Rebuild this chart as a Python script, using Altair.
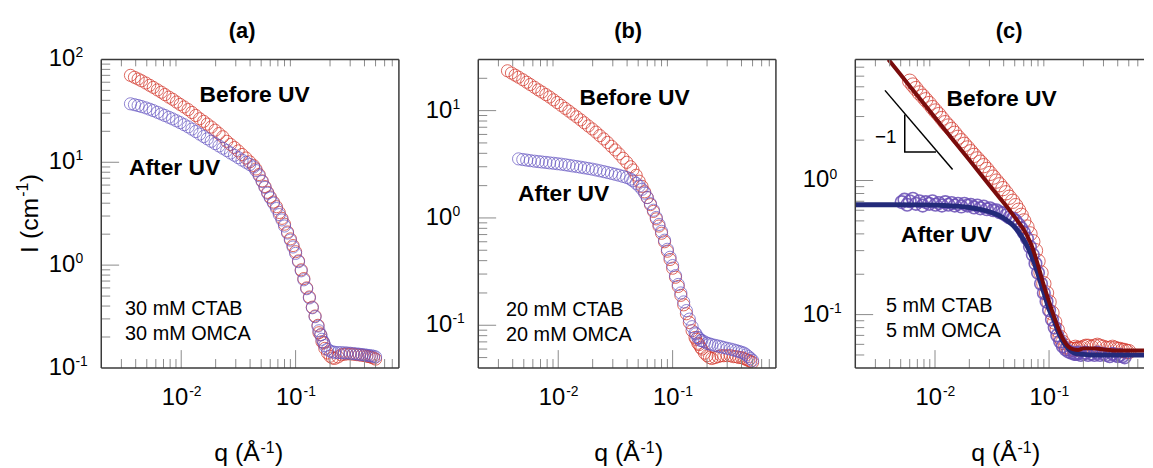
import altair as alt
import pandas as pd

# ---------------- data ----------------
Q_LOW = [0.0036, 0.0039, 0.0042, 0.0045, 0.0049, 0.0053, 0.0057, 0.0062, 0.0067, 0.0072,
         0.0078, 0.0084, 0.0091, 0.0098, 0.0106, 0.0115, 0.0124, 0.0134, 0.0145, 0.0157,
         0.0169, 0.0183, 0.0198, 0.0214, 0.0231, 0.025, 0.027, 0.0292, 0.0315, 0.034,
         0.0368, 0.0397, 0.0429]
Q_MID = [0.045, 0.048, 0.051, 0.054, 0.057, 0.060, 0.064, 0.068, 0.072, 0.076,
         0.080, 0.085, 0.090, 0.095, 0.100, 0.106, 0.112, 0.118, 0.125, 0.132,
         0.140, 0.148, 0.157, 0.166, 0.176]
Q_HIGH = [0.16, 0.17, 0.18, 0.19, 0.20, 0.21, 0.22, 0.235, 0.25, 0.265,
          0.28, 0.30, 0.32, 0.34, 0.36, 0.38, 0.40, 0.42, 0.44, 0.46,
          0.48, 0.50]
Q_AB = Q_LOW + Q_MID + Q_HIGH

I_A_BEFORE = [70, 67, 64.5, 62, 59, 56, 53.5, 50.5, 48, 45.5,
              43, 41, 38.5, 36.5, 34.5, 32.5, 30.5, 28.5, 26.5, 25,
              23.5, 22, 20.5, 19, 17.7, 16.0, 14.9, 13.9, 12.9, 11.9,
              11.0, 10.1, 9.3,
              8.6, 7.6, 6.6, 5.8, 5.1, 4.6, 4.1, 3.7, 3.25, 2.85,
              2.5, 2.1, 1.8, 1.55, 1.35, 1.1, 0.9, 0.74, 0.6, 0.49,
              0.39, 0.32, 0.26, 0.21, 0.175,
              0.22, 0.18, 0.155, 0.14, 0.13, 0.125, 0.124, 0.128, 0.134, 0.136,
              0.137, 0.137, 0.136, 0.135, 0.134, 0.133, 0.132, 0.13, 0.129, 0.127,
              0.125, 0.122]
I_A_AFTER = [37, 36.3, 35.6, 34.8, 33.8, 32.8, 31.8, 30.6, 29.5, 28.5,
             27.4, 26.4, 25.3, 24.3, 23.2, 22.1, 21.0, 19.9, 18.8, 17.8,
             16.9, 16.0, 15.2, 14.4, 13.7, 13.0, 12.3, 11.7, 11.1, 10.5,
             10.0, 9.5, 9.0,
             8.3, 7.4, 6.5, 5.7, 5.0, 4.5, 4.0, 3.55, 3.1, 2.75,
             2.4, 2.05, 1.75, 1.5, 1.3, 1.08, 0.88, 0.72, 0.59, 0.48,
             0.385, 0.315, 0.255, 0.21, 0.178,
             0.23, 0.19, 0.165, 0.152, 0.146, 0.143, 0.142, 0.141, 0.141, 0.14,
             0.14, 0.139, 0.138, 0.137, 0.136, 0.135, 0.134, 0.133, 0.132, 0.131,
             0.13, 0.128]
I_B_BEFORE = [23.5, 22.4, 21.4, 20.5, 19.4, 18.4, 17.5, 16.5, 15.6, 14.9,
              14.1, 13.4, 12.6, 11.9, 11.2, 10.5, 9.9, 9.3, 8.75, 8.2,
              7.7, 7.2, 6.75, 6.3, 5.85, 5.45, 5.05, 4.65, 4.3, 3.95,
              3.6, 3.3, 3.0,
              2.8, 2.5, 2.2, 1.97, 1.75, 1.55, 1.33, 1.15, 0.98, 0.84,
              0.72, 0.6, 0.49, 0.41, 0.34, 0.28, 0.23, 0.19, 0.155, 0.128,
              0.106, 0.089, 0.077, 0.068, 0.062,
              0.074, 0.066, 0.06, 0.055, 0.052, 0.05, 0.049, 0.05, 0.051, 0.052,
              0.052, 0.052, 0.052, 0.051, 0.051, 0.05, 0.05, 0.049, 0.048, 0.047,
              0.046, 0.045]
Q_B_AFTER = Q_AB[3:]
I_B_AFTER = [3.55, 3.5, 3.46, 3.42, 3.38, 3.35, 3.32, 3.29, 3.26, 3.23,
             3.2, 3.17, 3.13, 3.09, 3.05, 3.01, 2.97, 2.93, 2.89, 2.85,
             2.8, 2.75, 2.7, 2.65, 2.6, 2.55, 2.5, 2.44, 2.38, 2.3,
             2.22, 2.1, 1.98, 1.85, 1.7, 1.55, 1.36, 1.18, 1.01, 0.87,
             0.75, 0.62, 0.51, 0.43, 0.36, 0.29, 0.24, 0.2, 0.165, 0.137,
             0.114, 0.097, 0.085, 0.077, 0.072,
             0.083, 0.076, 0.072, 0.07, 0.068, 0.067, 0.066, 0.065, 0.064, 0.063,
             0.062, 0.061, 0.06, 0.059, 0.058, 0.057, 0.056, 0.055, 0.053, 0.051,
             0.049, 0.047]

QC_LOW = [0.0060, 0.0064, 0.0068, 0.0073, 0.0078, 0.0083, 0.0089, 0.0095, 0.0101, 0.0108,
          0.0115, 0.0123, 0.0131, 0.014, 0.0149, 0.0159, 0.017, 0.0181, 0.0193, 0.0206,
          0.022, 0.0235, 0.025, 0.0267, 0.0285, 0.0304, 0.0324, 0.0346, 0.0369, 0.0394,
          0.042, 0.0448]
QC_MID = [0.048, 0.051, 0.054, 0.057, 0.060, 0.064, 0.068, 0.072, 0.076, 0.080,
          0.085, 0.090, 0.095, 0.100, 0.106, 0.112, 0.118, 0.125, 0.132, 0.140,
          0.148, 0.157, 0.166, 0.176]
QC_HIGH = [0.17, 0.18, 0.19, 0.20, 0.21, 0.22, 0.235, 0.25, 0.265, 0.28,
           0.30, 0.32, 0.34, 0.36, 0.38, 0.40, 0.42, 0.44, 0.46, 0.48, 0.50]
Q_C_BEFORE = QC_LOW + QC_MID + QC_HIGH
I_C_BEFORE = [5.5, 5.15, 4.85, 4.5, 4.25, 4.0, 3.75, 3.5, 3.3, 3.1,
              2.9, 2.7, 2.55, 2.4, 2.25, 2.1, 1.98, 1.86, 1.75, 1.64,
              1.54, 1.45, 1.37, 1.29, 1.21, 1.13, 1.06, 0.99, 0.93, 0.87,
              0.81, 0.75,
              0.7, 0.65, 0.6, 0.55, 0.5, 0.45, 0.4, 0.35, 0.3, 0.25,
              0.205, 0.17, 0.145, 0.124, 0.103, 0.088, 0.077, 0.068, 0.062, 0.058,
              0.056, 0.055, 0.055, 0.055,
              0.057, 0.056, 0.056, 0.057, 0.058, 0.058, 0.057, 0.058, 0.059, 0.058,
              0.057, 0.056, 0.056, 0.057, 0.056, 0.055, 0.055, 0.054, 0.054, 0.053,
              0.053]
Q_C_AFTER = [0.0051, 0.0054, 0.0057] + QC_LOW + QC_MID + QC_HIGH[:19]
I_C_AFTER = [0.69, 0.72, 0.66, 0.7, 0.73, 0.67, 0.7, 0.65, 0.69, 0.67,
             0.7, 0.66, 0.68, 0.65, 0.69, 0.66, 0.68, 0.65, 0.67, 0.64,
             0.67, 0.65, 0.66, 0.63, 0.65, 0.62, 0.64, 0.61, 0.62, 0.6,
             0.6, 0.58, 0.57, 0.55, 0.53,
             0.52, 0.5, 0.47, 0.44, 0.41, 0.37, 0.32, 0.28, 0.24, 0.205,
             0.17, 0.145, 0.125, 0.108, 0.092, 0.08, 0.07, 0.063, 0.058, 0.055,
             0.053, 0.052, 0.051, 0.051,
             0.051, 0.052, 0.05, 0.051, 0.052, 0.05, 0.051, 0.05, 0.052, 0.05,
             0.051, 0.05, 0.049, 0.051, 0.05, 0.049, 0.05, 0.049, 0.048]

FIT_BEFORE_Q = [0.0039, 0.005, 0.007, 0.01, 0.014, 0.02, 0.028, 0.036, 0.045, 0.052,
                0.058, 0.064, 0.07, 0.076, 0.083, 0.09, 0.1, 0.11, 0.12, 0.13,
                0.14, 0.15, 0.165, 0.18, 0.2, 0.25, 0.3, 0.4, 0.5, 0.7]
FIT_BEFORE_I = [8.0, 6.15, 4.3, 2.95, 2.07, 1.42, 0.99, 0.76, 0.6, 0.51,
                0.45, 0.39, 0.33, 0.27, 0.21, 0.165, 0.125, 0.098, 0.08, 0.068,
                0.061, 0.057, 0.055, 0.0545, 0.056, 0.056, 0.055, 0.054, 0.054, 0.054]
FIT_AFTER_Q = [0.002, 0.004, 0.008, 0.012, 0.016, 0.02, 0.025, 0.03, 0.036, 0.042,
               0.048, 0.054, 0.06, 0.066, 0.072, 0.078, 0.085, 0.092, 0.1, 0.11,
               0.12, 0.13, 0.14, 0.15, 0.165, 0.18, 0.2, 0.25, 0.3, 0.4, 0.5, 0.7]
FIT_AFTER_I = [0.66, 0.66, 0.658, 0.652, 0.642, 0.63, 0.61, 0.585, 0.55, 0.51,
               0.465, 0.415, 0.36, 0.31, 0.26, 0.215, 0.17, 0.138, 0.11, 0.092,
               0.075, 0.065, 0.059, 0.055, 0.052, 0.051, 0.0505, 0.05, 0.05, 0.05,
               0.05, 0.05]

SLOPE_Q = [0.00364, 0.01426]
SLOPE_I = [4.7, 1.21]
TRI_Q = [0.00543, 0.00543, 0.0102]
TRI_I = [3.1, 1.63, 1.63]
SLOPE_LABEL = ["\u22121"]
SLOPE_LABEL_Q = [0.0037]
SLOPE_LABEL_I = [2.1]

X_MAJOR = [0.01, 0.1]
X_MAJOR_EXP = ["-2", "-1"]
X_MINOR = [0.003, 0.004, 0.005, 0.006, 0.007, 0.008, 0.009,
           0.02, 0.03, 0.04, 0.05, 0.06, 0.07, 0.08, 0.09,
           0.2, 0.3, 0.4, 0.5, 0.6, 0.7]
Y_MAJOR = [0.1, 1, 10, 100]
Y_MAJOR_EXP = ["-1", "0", "1", "2"]
Y_MINOR = [0.05, 0.06, 0.07, 0.08, 0.09,
           0.2, 0.3, 0.4, 0.5, 0.6, 0.7, 0.8, 0.9,
           2, 3, 4, 5, 6, 7, 8, 9,
           20, 30, 40, 50, 60, 70, 80, 90]

# ---------------- styling ----------------
FONT = "Liberation Sans"
H = 311
RED = "#d43a2f"
BLUE = "#6656c2"
BLUE_C = "#6a4fb6"
FIT_RED = "#7a0c0c"
FIT_BLUE = "#232a7a"
FRAME = "#3a3a3a"
TICK = "#8a8a8a"
ONE = pd.DataFrame({"k": [0]})


def lsc(dom):
    return alt.Scale(type="log", domain=dom, nice=False)


def X(field, dom):
    return alt.X(field, type="quantitative", scale=lsc(dom), axis=None)


def Y(field, dom):
    return alt.Y(field, type="quantitative", scale=lsc(dom), axis=None)


def points(q, i, dx, dy, color, size, sw, op):
    df = pd.DataFrame({"q": q, "I": i})
    return alt.Chart(df).mark_point(shape="circle", filled=False, size=size, strokeWidth=sw,
                                    color=color, opacity=op, clip=True).encode(
        x=X("q", dx), y=Y("I", dy))


def curve(q, i, dx, dy, color, sw, interp="monotone"):
    df = pd.DataFrame({"q": q, "I": i, "k": list(range(len(q)))})
    return alt.Chart(df).mark_line(color=color, strokeWidth=sw, clip=True, interpolate=interp).encode(
        x=X("q", dx), y=Y("I", dy), order="k:Q")


def hrule(y, x1, x2, color, sw):
    return alt.Chart(ONE).mark_rule(color=color, strokeWidth=sw).encode(
        x=alt.value(x1), x2=alt.value(x2), y=alt.value(y))


def vrule(x, y1, y2, color, sw):
    return alt.Chart(ONE).mark_rule(color=color, strokeWidth=sw).encode(
        x=alt.value(x), y=alt.value(y1), y2=alt.value(y2))


def text(t, x, y, size, bold=False, align="left", baseline="alphabetic", angle=0, dx=0, dy=0):
    return alt.Chart(pd.DataFrame({"t": [t]})).mark_text(
        font=FONT, fontSize=size, fontWeight="bold" if bold else "normal", align=align,
        baseline=baseline, angle=angle, dx=dx, dy=dy, color="black").encode(
        x=alt.value(x), y=alt.value(y), text="t:N")


def inside(vals, dom):
    return [v for v in vals if dom[0] < v < dom[1]]


def yticks(vals, dom, length):
    df = pd.DataFrame({"v": inside(vals, dom)})
    return alt.Chart(df).mark_rule(color=TICK, strokeWidth=1).encode(
        y=Y("v", dom), x=alt.value(0), x2=alt.value(length))


def xticks(vals, dom, length, top=False):
    df = pd.DataFrame({"v": inside(vals, dom)})
    return alt.Chart(df).mark_rule(color=TICK, strokeWidth=1).encode(
        x=X("v", dom), y=alt.value(0 if top else H), y2=alt.value(length if top else H - length))


def ylabels(dom):
    rows = [(v, e) for v, e in zip(Y_MAJOR, Y_MAJOR_EXP) if dom[0] <= v <= dom[1]]
    df = pd.DataFrame({"v": [r[0] for r in rows], "e": [r[1] for r in rows]})
    base = alt.Chart(df).encode(y=Y("v", dom))
    ten = base.mark_text(text="10", font=FONT, fontSize=24, align="left", baseline="middle",
                         color="black").encode(x=alt.value(-53))
    ex = base.mark_text(font=FONT, fontSize=14, align="left", baseline="middle", dy=-6,
                        color="black").encode(x=alt.value(-26), text="e:N")
    return [ten, ex]


def xlabels(dom):
    df = pd.DataFrame({"v": X_MAJOR, "e": X_MAJOR_EXP})
    base = alt.Chart(df).encode(x=X("v", dom))
    ten = base.mark_text(text="10", font=FONT, fontSize=24, align="right", baseline="middle", dx=7,
                         color="black").encode(y=alt.value(H + 30))
    ex = base.mark_text(font=FONT, fontSize=14, align="left", baseline="middle", dx=8, dy=-6,
                        color="black").encode(y=alt.value(H + 30), text="e:N")
    return [ten, ex]


def xtitle(cx):
    y = H + 94
    return [text("q (\u00c5", cx - 34, y, 25),
            text("-1", cx + 12.5, y, 16, dy=-8),
            text(")", cx + 27, y, 25)]


def frame(w, right=True):
    out = [vrule(0, 0, H, FRAME, 1.5), hrule(0, 0, w, FRAME, 1.5), hrule(H, 0, w, FRAME, 1.5)]
    if right:
        out.append(vrule(w, 0, H, FRAME, 1.5))
    return out


def axes(w, dx, dy, right=True):
    return ([yticks(Y_MINOR, dy, 9), yticks(Y_MAJOR, dy, 18),
             xticks(X_MINOR, dx, 9), xticks(X_MAJOR, dx, 18),
             xticks(X_MINOR, dx, 7, top=True)]
            + ylabels(dy) + xlabels(dx) + frame(w, right))


# ---------------- panel (a) ----------------
WA = 300
XA = [0.002, 0.8]
YA = [0.1, 100]
layers_a = [vrule(-93, -49, -48, "white", 1)]
layers_a += [points(Q_AB, I_A_BEFORE, XA, YA, RED, 150, 0.9, 0.85),
             points(Q_AB, I_A_AFTER, XA, YA, BLUE, 150, 0.9, 0.8)]
layers_a += axes(WA, XA, YA)
layers_a += [text("Before UV", 99, 43, 23, bold=True),
             text("After UV", 28, 116, 23, bold=True),
             text("30 mM CTAB", 24, 258, 20),
             text("30 mM OMCA", 24, 283, 20),
             text("(a)", 142, -22, 22, bold=True, align="center")]
layers_a += xtitle(148)
layers_a += [text("I (cm", -64, 156, 25, angle=270, dx=-39),
             text("-1", -64, 156, 16, angle=270, dx=17.6, dy=-10),
             text(")", -64, 156, 25, angle=270, dx=32.3)]
panel_a = alt.layer(*layers_a).properties(width=WA, height=H)

# ---------------- panel (b) ----------------
WB = 300
XB = [0.002, 0.8]
YB = [0.04, 30]
layers_b = [points(Q_AB, I_B_BEFORE, XB, YB, RED, 150, 0.9, 0.85),
            points(Q_B_AFTER, I_B_AFTER, XB, YB, BLUE, 150, 0.9, 0.8)]
layers_b += axes(WB, XB, YB)
layers_b += [text("Before UV", 102, 46, 23, bold=True),
             text("After UV", 40, 143, 23, bold=True),
             text("20 mM CTAB", 28, 259, 20),
             text("20 mM OMCA", 28, 284, 20),
             text("(b)", 151, -22, 22, bold=True, align="center")]
layers_b += xtitle(151)
panel_b = alt.layer(*layers_b).properties(width=WB, height=H)

# ---------------- panel (c) ----------------
WC = 291
XC = [0.002, 0.68]
YC = [0.04, 8]
layers_c = [points(Q_C_BEFORE, I_C_BEFORE, XC, YC, RED, 210, 0.9, 0.85),
            points(Q_C_AFTER, I_C_AFTER, XC, YC, BLUE_C, 160, 1.6, 0.85),
            curve(FIT_AFTER_Q, FIT_AFTER_I, XC, YC, FIT_BLUE, 5),
            curve(FIT_BEFORE_Q, FIT_BEFORE_I, XC, YC, FIT_RED, 4),
            curve(SLOPE_Q, SLOPE_I, XC, YC, "black", 1.5, "linear"),
            curve(TRI_Q, TRI_I, XC, YC, "black", 1.5, "linear"),
            alt.Chart(pd.DataFrame({"q": SLOPE_LABEL_Q, "I": SLOPE_LABEL_I, "t": SLOPE_LABEL}))
            .mark_text(font=FONT, fontSize=19, align="center", baseline="middle", color="black")
            .encode(x=X("q", XC), y=Y("I", YC), text="t:N")]
layers_c += axes(WC, XC, YC, right=False)
layers_c += [text("Before UV", 92, 47, 23, bold=True),
             text("After UV", 46, 184, 23, bold=True),
             text("5 mM CTAB", 31, 255, 20),
             text("5 mM OMCA", 31, 280, 20),
             text("(c)", 155, -22, 22, bold=True, align="center")]
layers_c += xtitle(151)
panel_c = alt.layer(*layers_c).properties(width=WC, height=H)

chart = alt.hconcat(panel_a, panel_b, panel_c, spacing=80, bounds="flush").properties(
    padding=0).configure_view(stroke=None)

chart.save("out.html", embed_options={"renderer": "svg", "actions": False})
